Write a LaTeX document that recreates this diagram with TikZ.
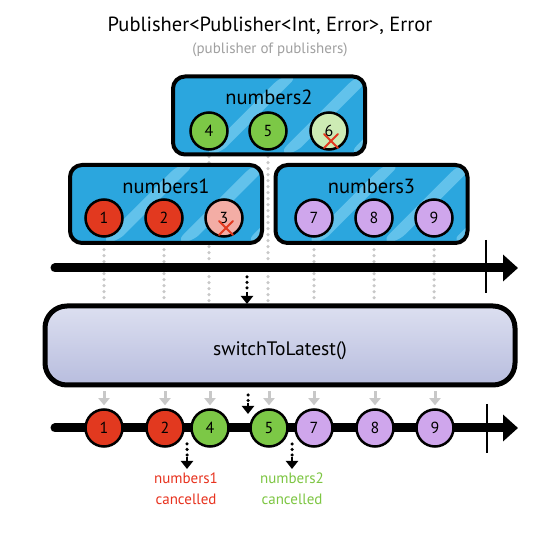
\documentclass[tikz,border=0pt]{standalone}
\usepackage{fontspec}
\setmainfont{PT Sans}
\usetikzlibrary{arrows.meta,calc,backgrounds}
\pgfdeclarelayer{bottom}
\pgfsetlayers{bottom,background,main}
\definecolor{boxblue}{HTML}{2BA6DE}
\definecolor{stripeblue}{HTML}{62C2EB}
\definecolor{bred}{HTML}{E2391F}
\definecolor{lred}{HTML}{F3ADA5}
\definecolor{bgreen}{HTML}{7CC846}
\definecolor{lgreen}{HTML}{CDEBB4}
\definecolor{bpurple}{HTML}{CFA6EC}
\definecolor{dotgray}{HTML}{C8C8C8}
\definecolor{subgray}{HTML}{A0A0A0}
\definecolor{lavtop}{HTML}{DCDFF0}
\definecolor{lavbot}{HTML}{B8BDDE}
\definecolor{cancelred}{HTML}{E8321E}
\definecolor{cancelgreen}{HTML}{7DC642}
\begin{document}
\begin{tikzpicture}[x=1pt,y=-1pt,
  srcbox/.style={draw=black, line width=4pt, rounded corners=12pt, fill=boxblue,
    minimum width=192pt, minimum height=78pt, inner sep=0pt,
    path picture={
      \foreach \o in {30,105,175}{
        \fill[stripeblue] ($(path picture bounding box.south west)+(\o,0)$) -- ++(80,-80) -- ++(16,0) -- ++(-80,80) -- cycle;}
    }},
  boxlabel/.style={font=\fontsize{20.5}{21}\selectfont, inner sep=0pt},
  ball/.style={circle, draw=black, line width=2.5pt, minimum size=37pt, inner sep=0pt, font=\fontsize{16}{16}\selectfont},
  graydots/.style={draw=dotgray, line width=3.5pt, line cap=round, dash pattern=on 0pt off 6pt},
  grayarrow/.style={draw=dotgray, line width=3pt, -{Triangle[length=7pt,width=11pt]}},
  blackdots/.style={draw=black, line width=3.5pt, line cap=round, dash pattern=on 0pt off 5.5pt},
  blackhead/.style={draw=black, line width=2.5pt, -{Triangle[length=8pt,width=12pt]}},
  timeline/.style={draw=black, line width=9pt, line cap=round, -{Triangle[length=15pt,width=26pt]}},
  tick/.style={draw=black, line width=2pt},
  cross/.style={draw=bred, line width=2pt, line cap=round},
  cancel/.style={font=\fontsize{15}{21}\selectfont, align=center, inner sep=0pt}
]
\begin{pgfonlayer}{bottom}
\fill[white] (0,0) rectangle (547,537);
\end{pgfonlayer}
\useasboundingbox (0,0) rectangle (547,537);

% title
\node[font=\fontsize{20.5}{20}\selectfont, inner sep=0pt] (title) at (270,26) {Publisher<Publisher<Int, Error>, Error};
\node[font=\fontsize{15}{15}\selectfont, text=subgray, inner sep=0pt] (subtitle) at (270,50) {(publisher of publishers)};

% source boxes
\node[srcbox] (n2) at (269,115.5) {};
\node[boxlabel] (n2l) at (269,97) {numbers2};
\node[ball, fill=bgreen] (c4) at (209,131) {4};
\node[ball, fill=bgreen] (c5) at (268,131) {5};
\node[ball, fill=lgreen] (c6) at (329,131) {6};

\node[srcbox] (n1) at (166,204) {};
\node[boxlabel] (n1l) at (166,186) {numbers1};
\node[ball, fill=bred] (c1) at (104,218) {1};
\node[ball, fill=bred] (c2) at (164,218) {2};
\node[ball, fill=lred] (c3) at (224,218) {3};

\node[srcbox] (n3) at (371.5,204) {};
\node[boxlabel] (n3l) at (371.5,186) {numbers3};
\node[ball, fill=bpurple] (c7) at (314,218) {7};
\node[ball, fill=bpurple] (c8) at (374,218) {8};
\node[ball, fill=bpurple] (c9) at (434,218) {9};

% crosses
\draw[cross] ($(c3.center)+(-5,3)$) -- ($(c3.center)+(9,17)$);
\draw[cross] ($(c3.center)+(9,3)$) -- ($(c3.center)+(-5,17)$);
\draw[cross] ($(c6.center)+(-5,3)$) -- ($(c6.center)+(9,17)$);
\draw[cross] ($(c6.center)+(9,3)$) -- ($(c6.center)+(-5,17)$);

% top timeline
\coordinate (t1s) at (55,268);
\coordinate (t1e) at (518,268);
\draw[timeline] (t1s) -- (t1e);
\coordinate (k1a) at (486,240);
\coordinate (k1b) at (486,293);
\draw[tick] (k1a) -- (k1b);

% operator box
\node[draw=black, line width=5pt, rounded corners=22pt, top color=lavtop, bottom color=lavbot,
  minimum width=470pt, minimum height=79pt, inner sep=0pt] (sw) at (280,345.5) {};
\node[font=\fontsize{19.5}{20}\selectfont, inner sep=0pt] (swl) at (280,351) {switchToLatest()};

% gray dotted drop lines
\begin{pgfonlayer}{background}
\foreach \c in {c1,c2,c4,c5,c7,c8,c9}{
  \draw[graydots] (\c.south) -- (\c.south |- sw.north);
}
\end{pgfonlayer}

% black dotted arrow into operator
\coordinate (a1s) at (247,277);
\coordinate (a1m) at (247,292);
\coordinate (a1e) at (247,304);
\draw[blackdots] (a1s) -- (a1m);
\draw[blackhead] (a1m) -- (a1e);

% bottom timeline
\coordinate (t2s) at (55,428);
\coordinate (t2e) at (518,428);
\draw[timeline] (t2s) -- (t2e);
\coordinate (k2a) at (487,404);
\coordinate (k2b) at (487,453);
\draw[tick] (k2a) -- (k2b);

\node[ball, fill=bred] (o1) at (104,428) {1};
\node[ball, fill=bred] (o2) at (165,428) {2};
\node[ball, fill=bgreen] (o4) at (210,428) {4};
\node[ball, fill=bgreen] (o5) at (269,428) {5};
\node[ball, fill=bpurple] (o7) at (314,428) {7};
\node[ball, fill=bpurple] (o8) at (375,428) {8};
\node[ball, fill=bpurple] (o9) at (435,428) {9};

\foreach \c in {o1,o2,o4,o5,o7,o8,o9}{
  \draw[grayarrow] ($(\c.north)+(0,-17)$) -- ($(\c.north)+(0,-3)$);
}

% black dotted arrow into output
\coordinate (a2s) at (248,395);
\coordinate (a2m) at (248,403);
\coordinate (a2e) at (248,414);
\draw[blackdots] (a2s) -- (a2m);
\draw[blackhead] (a2m) -- (a2e);

% cancellation arrows
\coordinate (a3s) at (187,444);
\coordinate (a3m) at (187,457);
\coordinate (a3e) at (187,469);
\draw[blackdots] (a3s) -- (a3m);
\draw[blackhead] (a3m) -- (a3e);
\coordinate (a4s) at (292,444);
\coordinate (a4m) at (292,457);
\coordinate (a4e) at (292,469);
\draw[blackdots] (a4s) -- (a4m);
\draw[blackhead] (a4m) -- (a4e);

\node[cancel, text=cancelred, anchor=north] (l1) at (186,473) {numbers1\\cancelled};
\node[cancel, text=cancelgreen, anchor=north] (l2) at (292,473) {numbers2\\cancelled};
\end{tikzpicture}
\end{document}
